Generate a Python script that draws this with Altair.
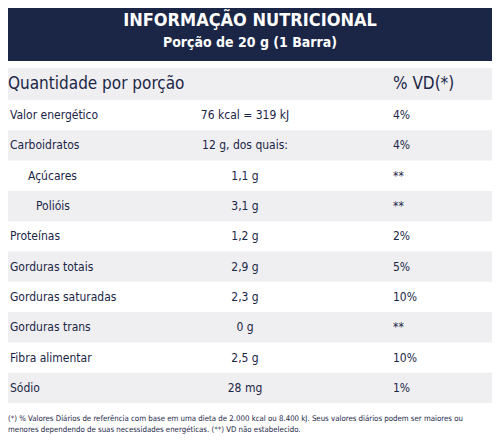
import altair as alt
import pandas as pd

title_lines = ["INFORMAÇÃO NUTRICIONAL", "Porção de 20 g (1 Barra)"]
head_left = "Quantidade por porção"
head_right = "% VD(*)"
nutrients = ["Valor energético", "Carboidratos", "Açúcares", "Polióis", "Proteínas",
             "Gorduras totais", "Gorduras saturadas", "Gorduras trans", "Fibra alimentar", "Sódio"]
amounts = ["76 kcal = 319 kJ", "12 g, dos quais:", "1,1 g", "3,1 g", "1,2 g",
           "2,9 g", "2,3 g", "0 g", "2,5 g", "28 mg"]
vd = ["4%", "4%", "**", "**", "2%", "5%", "10%", "**", "10%", "1%"]
indent = [0, 0, 1, 2, 0, 0, 0, 0, 0, 0]
footnote = ["(*) % Valores Diários de referência com base em uma dieta de 2.000 kcal ou 8.400 kJ. Seus valores diários podem ser maiores ou",
            "menores dependendo de suas necessidades energéticas. (**) VD não estabelecido."]

FONT = "DejaVu Sans Condensed, Roboto, sans-serif"
NAVY = "#1b2647"
GREY = "#efeff1"
TOP = 100.0
RH = 30.3

rows = pd.DataFrame({
    "nut": nutrients, "amt": amounts, "vd": vd,
    "xl": [10 + 18 * i if i < 2 else 36 for i in indent],
    "yc": [TOP + RH * (i + 0.5) for i in range(len(nutrients))],
    "y0": [TOP + RH * i for i in range(len(nutrients))],
    "y1": [TOP + RH * (i + 1) for i in range(len(nutrients))],
    "shade": [i % 2 == 1 for i in range(len(nutrients))],
})

xs = alt.Scale(domain=[8, 492])
ys = alt.Scale(domain=[8, 436], reverse=True)
X = lambda f: alt.X(f, type="quantitative", scale=xs, axis=None)
Y = lambda f: alt.Y(f, type="quantitative", scale=ys, axis=None)

bands = pd.DataFrame({
    "x0": [0, 0], "x1": [500, 500], "y0": [0, 68], "y1": [61, 100],
    "c": [NAVY, GREY],
})
bg = alt.Chart(bands).mark_rect().encode(
    x=X("x0"), x2="x1", y=Y("y0"), y2="y1",
    color=alt.Color("c:N", scale=None))

grey = alt.Chart(rows).transform_filter("datum.shade").transform_calculate(a="0", b="500").mark_rect(color=GREY).encode(
    x=X("a"), x2="b:Q", y=Y("y0"), y2="y1")

titles = pd.DataFrame({"t": title_lines, "x": [250, 250], "y": [21, 43], "s": [18, 14]})
ttl = alt.Chart(titles).mark_text(font=FONT, fontWeight="bold", color="white", align="center", baseline="middle").encode(
    x=X("x"), y=Y("y"), text="t:N", size=alt.Size("s:Q", scale=None))

heads = pd.DataFrame({"t": [head_left, head_right], "x": [8, 393], "y": [84, 84]})
hd = alt.Chart(heads).mark_text(font=FONT, fontSize=17, color=NAVY, align="left", baseline="middle").encode(
    x=X("x"), y=Y("y"), text="t:N")

base = alt.Chart(rows)
lab = base.mark_text(font=FONT, fontSize=12, fontWeight=500, color=NAVY, align="left", baseline="middle").encode(
    x=X("xl"), y=Y("yc"), text="nut:N")
amt = base.transform_calculate(cx="245").mark_text(font=FONT, fontSize=12, fontWeight=500, color=NAVY, align="center", baseline="middle").encode(
    x=X("cx"), y=Y("yc"), text="amt:N")
vdt = base.transform_calculate(vx="393").mark_text(font=FONT, fontSize=12, fontWeight=500, color=NAVY, align="left", baseline="middle").encode(
    x=X("vx"), y=Y("yc"), text="vd:N")

fn = pd.DataFrame({"t": footnote, "x": [8, 8], "y": [419, 430]})
foot = alt.Chart(fn).mark_text(font=FONT, fontSize=7.8, color=NAVY, align="left", baseline="middle").encode(
    x=X("x"), y=Y("y"), text="t:N")

chart = alt.layer(bg, grey, ttl, hd, lab, amt, vdt, foot).properties(
    width=484, height=428, padding=0, autosize=alt.AutoSizeParams(type="none")
).configure_view(strokeWidth=0)

chart.save("out.html", embed_options={"renderer": "svg", "actions": False})
